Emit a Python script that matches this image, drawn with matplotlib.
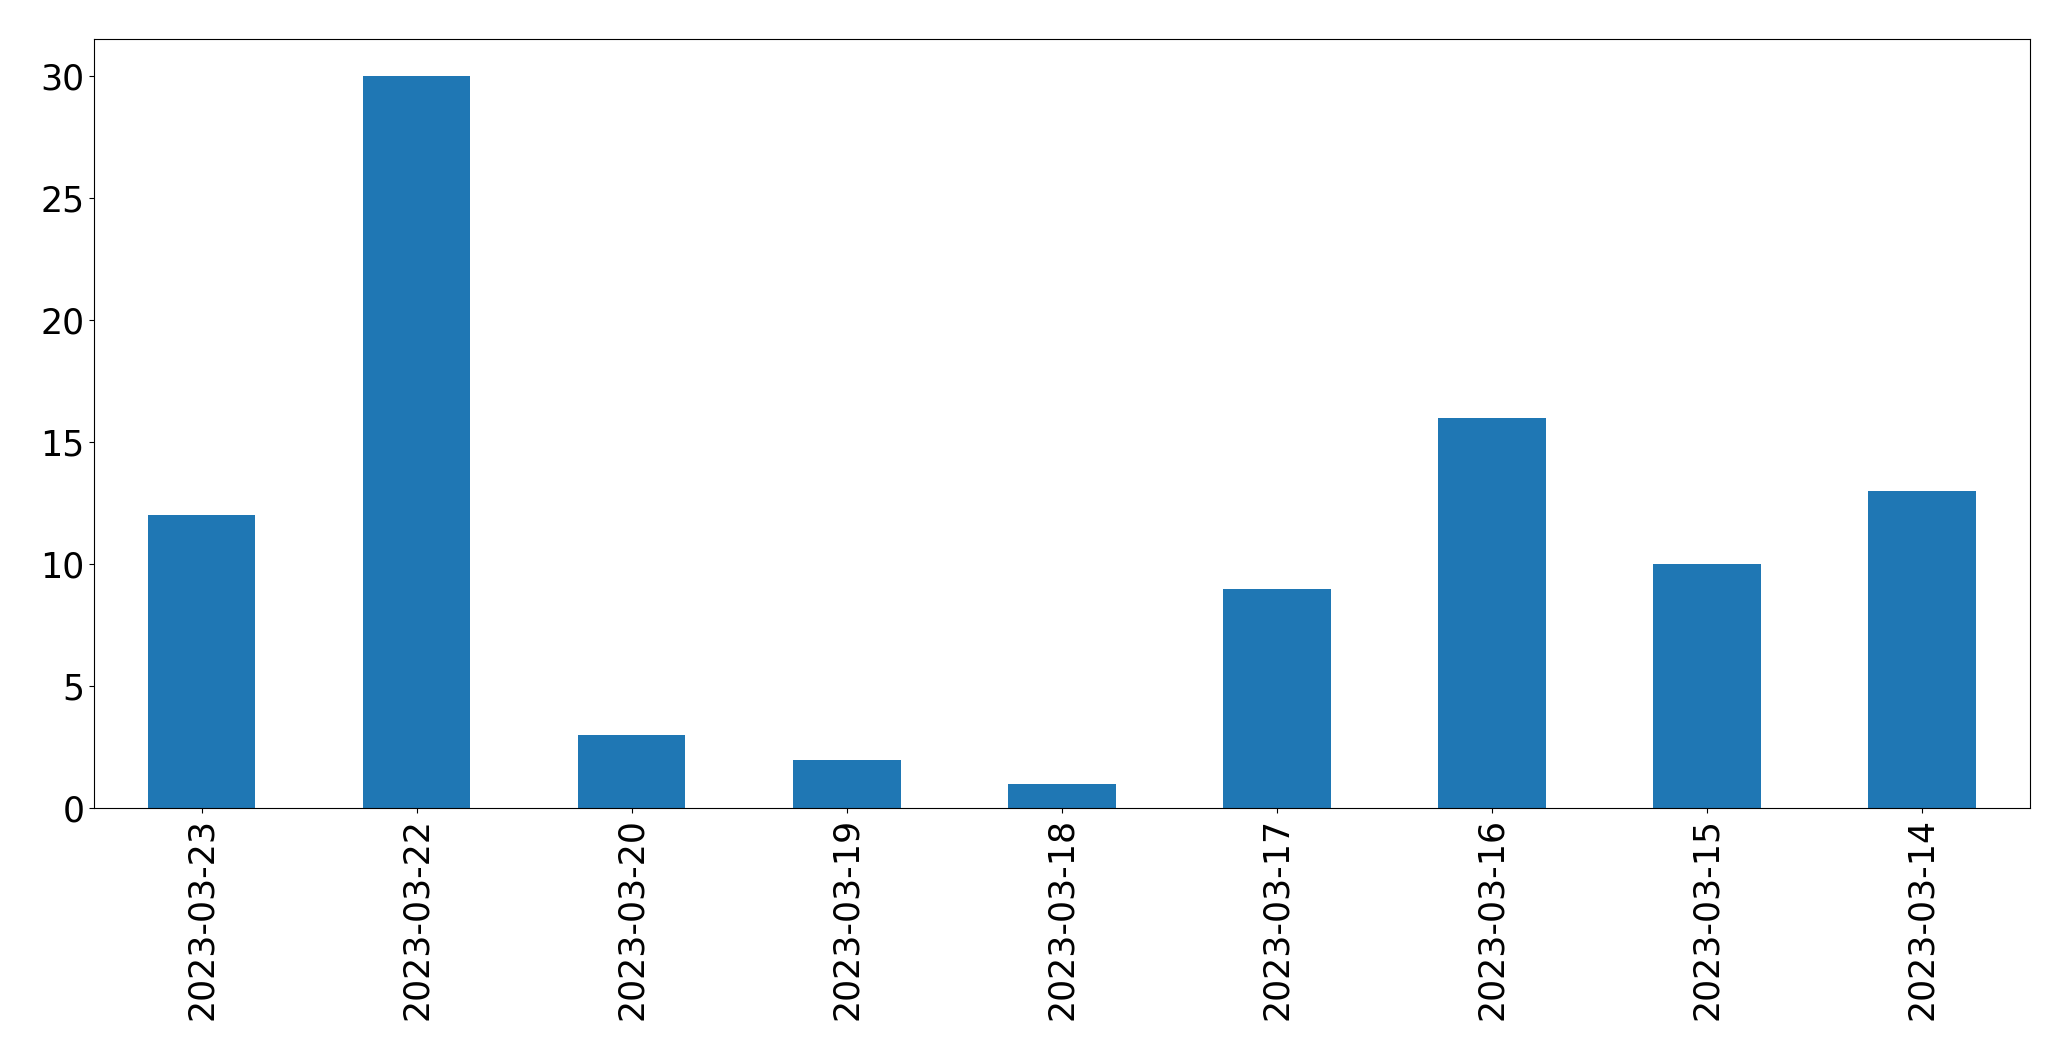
import matplotlib
matplotlib.use("Agg")
import matplotlib.pyplot as plt

# counts per day, in the order they appear on the chart
dates = ["2023-03-23", "2023-03-22", "2023-03-20", "2023-03-19", "2023-03-18",
         "2023-03-17", "2023-03-16", "2023-03-15", "2023-03-14"]
counts = [12, 30, 3, 2, 1, 9, 16, 10, 13]

fig, ax = plt.subplots(figsize=(20.71, 10.61), dpi=100)
fig.subplots_adjust(left=0.0454, right=0.980, top=0.963, bottom=0.238)

x = range(len(dates))
ax.bar(x, counts, width=0.5, color="#1f77b4")
ax.set_xticks(list(x))
ax.set_xticklabels(dates, rotation=90)
ax.set_xlim(-0.5, len(dates) - 0.5)
ax.tick_params(axis="both", labelsize=25)

plt.savefig("out.png")
